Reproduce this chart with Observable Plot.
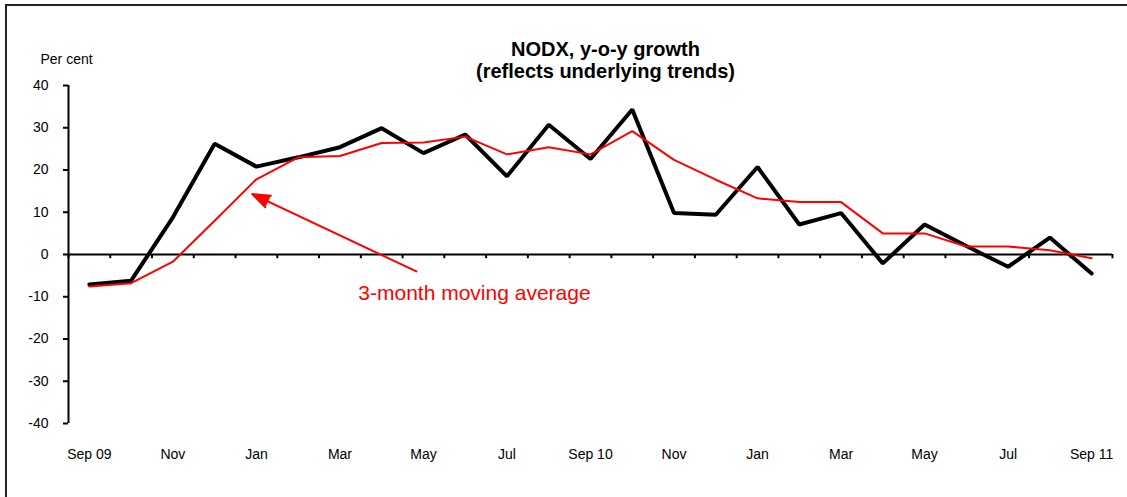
<!DOCTYPE html>
<html>
<head>
<meta charset="utf-8">
<script src="https://cdn.jsdelivr.net/npm/d3@7"></script>
<script src="https://cdn.jsdelivr.net/npm/@observablehq/plot@0.6"></script>
<style>
  html, body { margin: 0; padding: 0; background: #fff; }
  #wrap { position: relative; width: 1127px; height: 497px; overflow: hidden; }
  #frame { position: absolute; left: 5px; top: 4px; right: -10px; bottom: -10px;
           border-top: 2px solid #222; border-left: 2px solid #222; }
  #chart { position: absolute; left: 0; top: 0; }
  svg { font-family: "Liberation Sans", Arial, sans-serif; }
</style>
</head>
<body>
<div id="wrap"><div id="frame"></div><div id="chart"></div></div>
<script>
// Months Sep 09 .. Sep 11 (index 0..24)
const months = ["Sep 09","Oct 09","Nov 09","Dec 09","Jan 10","Feb 10","Mar 10","Apr 10","May 10","Jun 10","Jul 10","Aug 10",
  "Sep 10","Oct 10","Nov 10","Dec 10","Jan 11","Feb 11","Mar 11","Apr 11","May 11","Jun 11","Jul 11","Aug 11","Sep 11"];
// NODX y-o-y growth, per cent
const nodx = [-7.1, -6.2, 8.8, 26.2, 20.8, 23.0, 25.4, 29.9, 24.0, 28.4, 18.5, 30.7,
  22.6, 34.3, 9.8, 9.4, 20.7, 7.1, 9.8, -2.1, 7.1, 2.0, -2.9, 4.0, -4.5];
// 3-month moving average
const movingAvg = [-7.6, -6.8, -1.7, 8.0, 17.8, 23.0, 23.3, 26.4, 26.5, 27.9, 23.7, 25.4,
  23.7, 29.2, 22.4, 17.7, 13.3, 12.4, 12.4, 5.0, 5.0, 1.9, 1.9, 1.0, -0.9];
// x tick labels (every other month)
const xTickIdx = [0, 2, 4, 6, 8, 10, 12, 14, 16, 18, 20, 22, 24];
const xTickLabels = ["Sep 09","Nov","Jan","Mar","May","Jul","Sep 10","Nov","Jan","Mar","May","Jul","Sep 11"];
const yTicks = [-40, -30, -20, -10, 0, 10, 20, 30, 40];
// annotation (data space)
const annotArrow = [{x1: 7.83, y1: -4.0, x2: 3.9, y2: 14.3}];
const annotText = [{x: 6.44, y: -10.7, label: "3-month moving average"}];

const blackData = nodx.map((v, i) => ({i, v}));
const redData = movingAvg.map((v, i) => ({i, v}));
const boundaries = d3.range(0, months.length + 1).map(k => k - 0.5);

const chart = Plot.plot({
  width: 1127,
  height: 497,
  marginLeft: 68,
  marginRight: 15,
  marginTop: 85,
  marginBottom: 74,
  style: {fontFamily: "Liberation Sans, Arial, sans-serif", background: "transparent", overflow: "visible"},
  x: {domain: [-0.5, months.length - 0.5], axis: null},
  y: {domain: [-40, 40], axis: null},
  marks: [
    Plot.axisY(yTicks, {tickSize: 5, tickPadding: 15, fontSize: 14, strokeWidth: 2, stroke: "#000", fill: "#000", label: null, tickFormat: d => String(d)}),
    Plot.ruleX([-0.5], {y1: -40, y2: 40, stroke: "#000", strokeWidth: 2}),
    Plot.ruleY([0], {x1: -0.5, x2: months.length - 0.5, stroke: "#000", strokeWidth: 2}),
    Plot.ruleX(boundaries, {x: d => d, y1: 0, y2: -1, stroke: "#000", strokeWidth: 2}),
    Plot.text(xTickIdx, {x: d => d, text: (d, k) => xTickLabels[k], frameAnchor: "bottom", dy: 35, lineAnchor: "bottom", fontSize: 14, fill: "#000"}),
    Plot.line(blackData, {x: "i", y: "v", stroke: "#000", strokeWidth: 4, strokeLinejoin: "miter"}),
    Plot.line(redData, {x: "i", y: "v", stroke: "#ff0000", strokeWidth: 2, strokeLinejoin: "miter"}),
    Plot.arrow(annotArrow, {x1: "x1", y1: "y1", x2: "x2", y2: "y2", stroke: "#ff0000", fill: "#ff0000", strokeWidth: 2, headLength: 14, headAngle: 40}),
    Plot.text(annotText, {x: "x", y: "y", text: "label", textAnchor: "start", lineAnchor: "bottom", fontSize: 21, fill: "#ff0000"}),
    Plot.text(["NODX, y-o-y growth"], {frameAnchor: "top-left", dx: 537, dy: -30, text: d => d, textAnchor: "middle", lineAnchor: "bottom", fontSize: 20, fontWeight: "bold", fill: "#000"}),
    Plot.text(["(reflects underlying trends)"], {frameAnchor: "top-left", dx: 537, dy: -8, text: d => d, textAnchor: "middle", lineAnchor: "bottom", fontSize: 20, fontWeight: "bold", fill: "#000"}),
    Plot.text(["Per cent"], {frameAnchor: "top-left", dx: -28, dy: -22, text: d => d, textAnchor: "start", lineAnchor: "bottom", fontSize: 14, fill: "#000"})
  ]
});
document.getElementById("chart").appendChild(chart);
</script>
</body>
</html>
